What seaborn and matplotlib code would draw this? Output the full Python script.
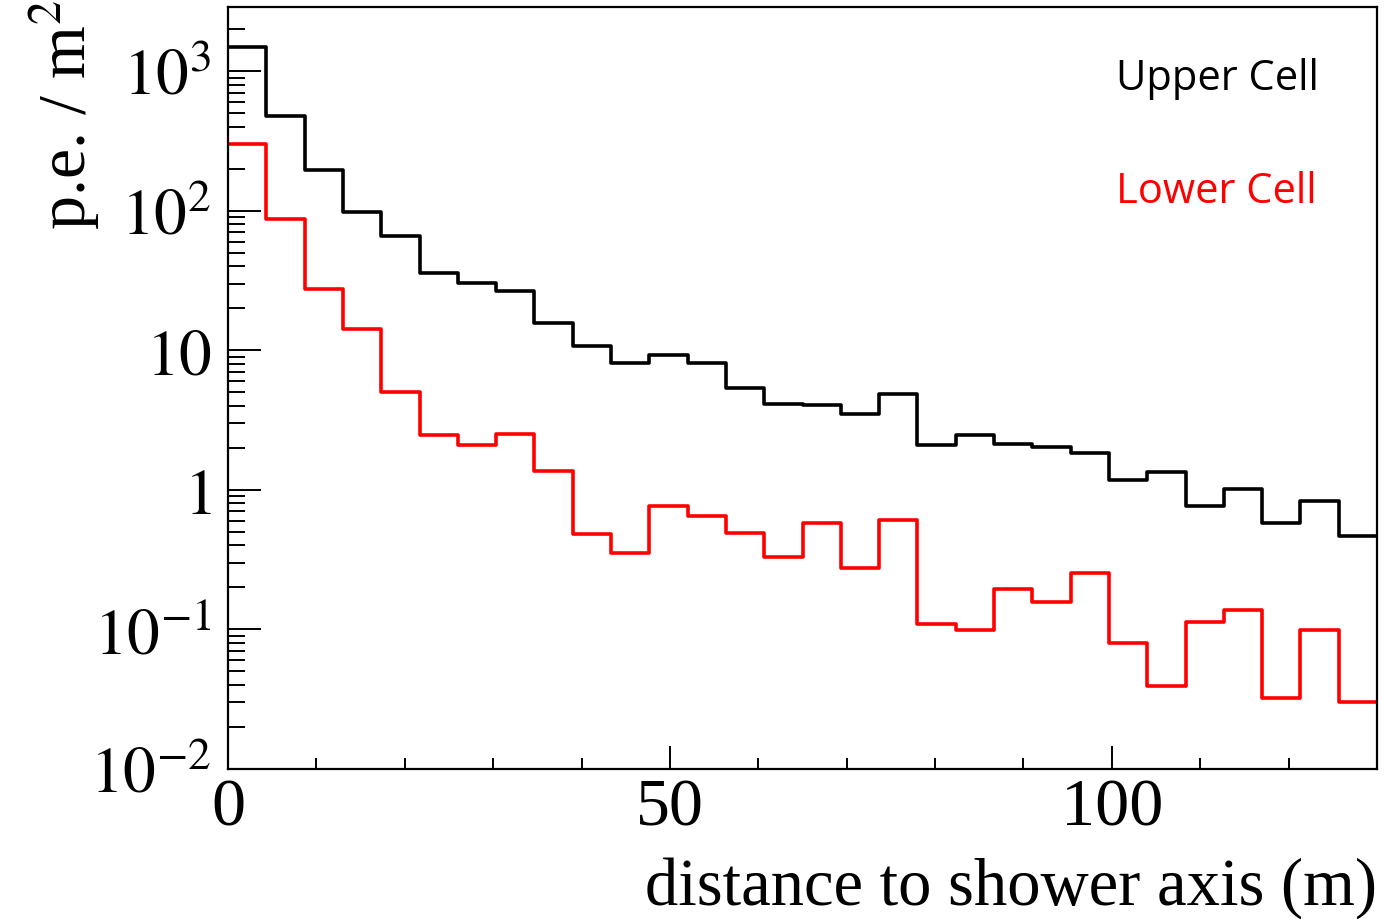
import numpy as np
import pandas as pd
import matplotlib
matplotlib.use("Agg")
import matplotlib.pyplot as plt
import matplotlib.ticker as mticker
import seaborn as sns

# ---- data ----
x_min, x_max, n_bins = 0.0, 130.0, 30

upper_cell = [1500, 480, 197, 98.5, 66, 35.6, 30.4, 26.5, 15.6, 10.8,
              8.08, 9.22, 8.08, 5.35, 4.13, 4.08, 3.52, 4.87, 2.08, 2.46,
              2.12, 2.03, 1.85, 1.17, 1.34, 0.766, 1.01, 0.582, 0.832, 0.469]
lower_cell = [303, 87, 27.4, 14.2, 5.05, 2.47, 2.09, 2.51, 1.36, 0.48,
              0.354, 0.766, 0.649, 0.493, 0.33, 0.578, 0.275, 0.611, 0.110, 0.0987,
              0.195, 0.157, 0.253, 0.080, 0.0392, 0.1135, 0.137, 0.0323, 0.099, 0.030]
series_names = ["Upper Cell", "Lower Cell"]
series_colors = ["#000000", "#ff0000"]

y_ticks = [1e-2, 1e-1, 1, 10, 1e2, 1e3]
y_tick_labels = [r"$10^{-2}$", r"$10^{-1}$", r"$1$", r"$10$", r"$10^{2}$", r"$10^{3}$"]
x_ticks = [0, 50, 100]
x_tick_labels = ["0", "50", "100"]
x_label = "distance to shower axis (m)"
y_label = r"p.e. / m$^{2}$"

# ---- build table ----
edges = np.linspace(x_min, x_max, n_bins + 1)
centers = 0.5 * (edges[:-1] + edges[1:])
df = pd.concat([
    pd.DataFrame({"distance": centers, "density": upper_cell, "cell": series_names[0]}),
    pd.DataFrame({"distance": centers, "density": lower_cell, "cell": series_names[1]}),
], ignore_index=True)

sns.set_style("ticks")
plt.rcParams["font.family"] = ["Liberation Serif", "DejaVu Serif"]
plt.rcParams["mathtext.fontset"] = "stix"
plt.rcParams["text.color"] = "black"
plt.rcParams["axes.labelcolor"] = "black"
plt.rcParams["xtick.color"] = "black"
plt.rcParams["ytick.color"] = "black"

fig = plt.figure(figsize=(13.85, 9.2), dpi=100)
ax = fig.add_axes([228 / 1385, 150 / 920, 1149 / 1385, 762 / 920])

sns.histplot(data=df, x="distance", weights="density", hue="cell",
             hue_order=series_names, palette=dict(zip(series_names, series_colors)),
             bins=n_bins, binrange=(x_min, x_max), element="step", fill=False,
             linewidth=2.6, legend=False, ax=ax)

ax.set_yscale("log")
ax.set_xlim(x_min, x_max)
ax.set_ylim(1e-2, 10 ** 3.46)

for s in ax.spines.values():
    s.set_linewidth(1.6)
    s.set_color("black")
    s.set_visible(True)

ax.xaxis.set_major_locator(mticker.FixedLocator(x_ticks))
ax.xaxis.set_major_formatter(mticker.FixedFormatter(x_tick_labels))
ax.xaxis.set_minor_locator(mticker.MultipleLocator(10))
ax.yaxis.set_major_locator(mticker.FixedLocator(y_ticks))
ax.yaxis.set_major_formatter(mticker.FixedFormatter(y_tick_labels))
ax.yaxis.set_minor_locator(mticker.LogLocator(base=10, subs=np.arange(2, 10), numticks=20))
ax.yaxis.set_minor_formatter(mticker.NullFormatter())

ax.tick_params(axis="x", which="major", direction="in", length=16.5, width=1.4,
               labelsize=49, pad=6, top=False, colors="black")
ax.tick_params(axis="x", which="minor", direction="in", length=8, width=1.4, top=False)
ax.tick_params(axis="y", which="major", direction="in", length=24, width=1.4,
               labelsize=47, pad=12, right=False, colors="black")
ax.tick_params(axis="y", which="minor", direction="in", length=12, width=1.4, right=False)

ax.set_xlabel(x_label, fontsize=48, ha="right", color="black")
ax.xaxis.set_label_coords(1.0, -0.114)
ax.set_ylabel(y_label, fontsize=49, ha="right", color="black")
ax.yaxis.set_label_coords(-0.11, 1.01)

for name, color, yfrac in zip(series_names, series_colors, [0.893, 0.744]):
    ax.text(0.773, yfrac, name, transform=ax.transAxes, color=color,
            fontsize=30, family="Open Sans", ha="left", va="baseline")

fig.savefig("out.png", dpi=100)
